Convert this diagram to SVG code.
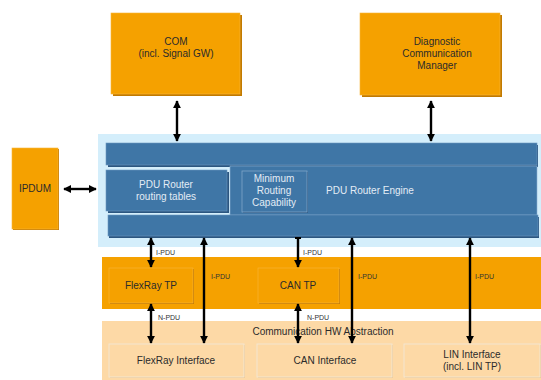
<svg xmlns="http://www.w3.org/2000/svg" width="541" height="380" viewBox="0 0 541 380">
<defs>
<marker id="ah" viewBox="0 0 10 10" refX="9" refY="5" markerWidth="3.4" markerHeight="3.4" orient="auto-start-reverse" markerUnits="strokeWidth">
<path d="M0,0 L10,5 L0,10 z" fill="#000"/>
</marker>
</defs>
<style>
text{font-family:"Liberation Sans",Arial,sans-serif;text-anchor:middle}
.org{fill:#F5A100;stroke:#F9B63A;stroke-width:0.6}
.sh{fill:#C27A00}
.lt{fill:#FDD9A6;stroke:#F3E6D0;stroke-width:1}
.ltsh{fill:#E9C490}
.blu{fill:#3F76A6}
.bsh{fill:#2B5680}
.bt{fill:#E3ECF5;font-size:10px}
.dt{fill:#2B2B2B;font-size:10px}
.lbl{fill:#333;font-size:7px;text-anchor:start}
.c{stroke:#000;stroke-width:2.4;fill:none}
</style>
<rect width="541" height="380" fill="#fff"/>

<g id="com">
<rect class="sh" x="113" y="15" width="129" height="81"/>
<rect class="org" x="111" y="13" width="129" height="81"/>
<text class="dt" x="176" y="45">COM</text>
<text class="dt" x="176" y="57">(incl. Signal GW)</text>
</g>

<g id="dcm">
<rect class="sh" x="362" y="15" width="140" height="82"/>
<rect class="org" x="360" y="13" width="140" height="82"/>
<text class="dt" x="437" y="45">Diagnostic</text>
<text class="dt" x="437" y="57">Communication</text>
<text class="dt" x="437" y="69">Manager</text>
</g>

<g id="ipdum">
<rect class="sh" x="13" y="149" width="46" height="81"/>
<rect class="org" x="12" y="148" width="46" height="81"/>
<text class="dt" x="35" y="192">IPDUM</text>
</g>

<g id="pdurouter">
<rect x="98" y="134" width="443" height="113" fill="#D4EEFB"/>
<rect class="bsh" x="108" y="145" width="430" height="22"/>
<rect class="blu" x="106" y="143" width="431" height="22" stroke="#6C98C0" stroke-width="0.6"/>
<rect class="blu" x="230" y="166" width="307" height="49" stroke="#8DB3D3" stroke-width="0.6"/>
<rect class="bsh" x="108" y="172" width="121" height="41"/>
<rect class="blu" x="106" y="170" width="121" height="41" stroke="#6C98C0" stroke-width="0.6"/>
<text class="bt" x="166" y="188">PDU Router</text>
<text class="bt" x="166" y="200">routing tables</text>
<rect class="bsh" x="243" y="172" width="65" height="41"/>
<rect class="blu" x="242" y="171" width="65" height="41" stroke="#7FA6C9" stroke-width="0.8"/>
<text class="bt" x="274" y="182">Minimum</text>
<text class="bt" x="274" y="194">Routing</text>
<text class="bt" x="274" y="206">Capability</text>
<text class="bt" x="370" y="194">PDU Router Engine</text>
<rect class="bsh" x="109" y="217" width="430" height="21"/>
<rect class="blu" x="108" y="215" width="430" height="21" stroke="#6C98C0" stroke-width="0.6"/>
</g>

<g id="tp-layer">
<rect x="102" y="257" width="439" height="52" fill="#F5A100"/>
</g>

<g id="flexraytp">
<rect class="sh" x="110" y="269" width="84" height="35"/>
<rect class="org" x="109" y="268" width="84" height="35"/>
<text class="dt" x="151" y="289">FlexRay TP</text>
</g>

<g id="cantp">
<rect class="sh" x="259" y="269" width="81" height="35"/>
<rect class="org" x="258" y="268" width="81" height="35"/>
<text class="dt" x="298" y="289">CAN TP</text>
</g>

<g id="hwabs">
<rect x="102" y="321" width="439" height="59" fill="#FDD9A6"/>
<text class="dt" x="323" y="335">Communication HW Abstraction</text>
</g>

<g id="flexrayif">
<rect class="ltsh" x="110" y="345" width="135" height="33"/>
<rect class="lt" x="109" y="344" width="135" height="33"/>
<text class="dt" x="176" y="364" fill="#444">FlexRay Interface</text>
</g>

<g id="canif">
<rect class="ltsh" x="258" y="345" width="135" height="33"/>
<rect class="lt" x="257" y="344" width="135" height="33"/>
<text class="dt" x="325" y="364">CAN Interface</text>
</g>

<g id="linif">
<rect class="ltsh" x="405" y="345" width="136" height="33"/>
<rect class="lt" x="404" y="344" width="136" height="33"/>
<text class="dt" x="472" y="358">LIN Interface</text>
<text class="dt" x="472" y="370">(incl. LIN TP)</text>
</g>

<g id="connectors">
<line class="c" x1="177" y1="101" x2="177" y2="141" marker-start="url(#ah)" marker-end="url(#ah)"/>
<line class="c" x1="431" y1="101" x2="431" y2="141" marker-start="url(#ah)" marker-end="url(#ah)"/>
<line class="c" x1="64" y1="189" x2="96" y2="189" marker-start="url(#ah)" marker-end="url(#ah)"/>
<line class="c" x1="151" y1="238" x2="151" y2="267" marker-start="url(#ah)" marker-end="url(#ah)"/>
<text class="lbl" x="156" y="255">I-PDU</text>
<line class="c" x1="151" y1="304" x2="151" y2="343" marker-start="url(#ah)" marker-end="url(#ah)"/>
<text class="lbl" x="158" y="320">N-PDU</text>
<line class="c" x1="204" y1="238" x2="204" y2="343" marker-start="url(#ah)" marker-end="url(#ah)"/>
<text class="lbl" x="211" y="279">I-PDU</text>
<line class="c" x1="298" y1="238" x2="298" y2="267" marker-end="url(#ah)"/>
<line x1="295" y1="238" x2="301" y2="238" stroke="#000" stroke-width="2"/>
<text class="lbl" x="303" y="255">I-PDU</text>
<line class="c" x1="298" y1="304" x2="298" y2="343" marker-start="url(#ah)" marker-end="url(#ah)"/>
<text class="lbl" x="307" y="320">N-PDU</text>
<line class="c" x1="352" y1="238" x2="352" y2="343" marker-start="url(#ah)" marker-end="url(#ah)"/>
<text class="lbl" x="358" y="279">I-PDU</text>
<line class="c" x1="470" y1="238" x2="470" y2="343" marker-start="url(#ah)" marker-end="url(#ah)"/>
<text class="lbl" x="475" y="279">I-PDU</text>
</g>
</svg>
